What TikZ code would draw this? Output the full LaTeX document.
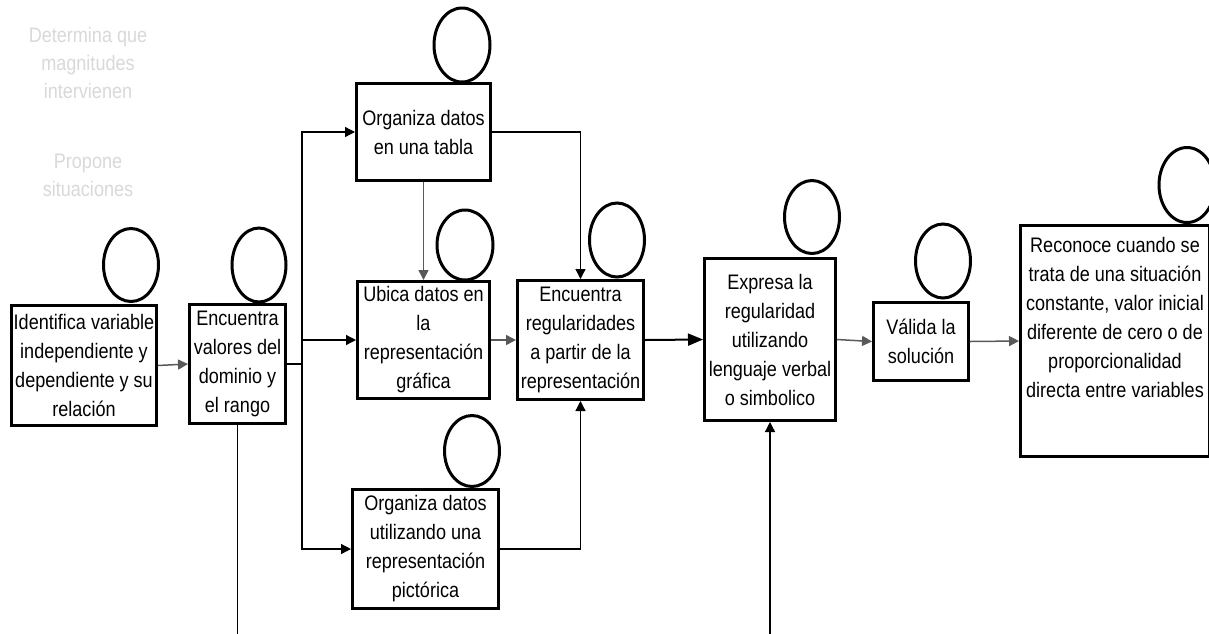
\documentclass[tikz,border=0pt]{standalone}
\usepackage{fontspec}
\setmainfont{Liberation Sans}[FakeStretch=0.86]
\usetikzlibrary{shapes.geometric,arrows.meta}
\definecolor{linegray}{HTML}{595959}
\definecolor{softgray}{HTML}{D9D9D9}
\tikzset{
  stepbox/.style={draw, line width=3pt, inner sep=0pt, align=center,
    font=\fontsize{21}{29}\selectfont},
  steptext/.style={inner sep=0pt, align=center, font=\fontsize{21}{29}\selectfont},
  note/.style={inner sep=0pt, align=center, text=softgray,
    font=\fontsize{21}{28}\selectfont},
  bubble/.style={ellipse, draw, line width=3pt, inner sep=0pt,
    minimum width=53pt, minimum height=72pt},
  link/.style={line width=1.3pt, black},
  glink/.style={line width=1.5pt, linegray},
  tip/.style={-{Triangle[length=10pt,width=10pt]}},
  bigtip/.style={-{Triangle[length=15pt,width=12pt]}}
}
\begin{document}
\begin{tikzpicture}[x=1pt,y=-1pt]
\clip (0,0) rectangle (1209,633);
\fill[white] (0,0) rectangle (1209,633);

% faded notes
\node[note] (n1) at (88,63) {Determina que\\magnitudes\\intervienen};
\node[note] (n2) at (88,175) {Propone\\situaciones};

% process steps
\node[stepbox, minimum width=145pt, minimum height=120pt] (ide) at (84,365.5)
  {Identifica variable\\independiente y\\dependiente y su\\relación};
\node[stepbox, minimum width=96pt, minimum height=119pt] (val) at (237.5,364)
  {Encuentra\\valores del\\dominio y\\el rango};
\node[stepbox, minimum width=134pt, minimum height=97pt] (tab) at (423.5,132)
  {Organiza datos\\en una tabla};
\node[stepbox, minimum width=132pt, minimum height=117pt] (ubi) at (423.5,340)
  {Ubica datos en\\la\\representación\\gráfica};
\node[stepbox, minimum width=126pt, minimum height=119pt] (reg) at (580.5,340)
  {Encuentra\\regularidades\\a partir de la\\representación};
\node[stepbox, minimum width=146pt, minimum height=119pt] (pic) at (425.5,549)
  {Organiza datos\\utilizando una\\representación\\pictórica};
\node[stepbox, minimum width=131pt, minimum height=162pt] (exp) at (770,339.5)
  {Expresa la\\regularidad\\utilizando\\lenguaje verbal\\o simbolico};
\node[stepbox, minimum width=95pt, minimum height=78pt] (vld) at (921,341.5)
  {Válida la\\solución};
\node[stepbox, minimum width=189pt, minimum height=231pt] (rec) at (1115,341) {};
\node[steptext] (rectxt) at (1115,317)
  {Reconoce cuando se\\trata de una situación\\constante, valor inicial\\diferente de cero o de\\proporcionalidad\\directa entre variables};

% bubbles above the steps
\node[bubble, minimum width=55pt, minimum height=73pt] (b1) at (131,265) {};
\node[bubble, minimum width=54pt, minimum height=74pt] (b2) at (259,265) {};
\node[bubble, minimum width=56pt, minimum height=74pt] (b3) at (462,45) {};
\node[bubble, minimum width=56pt, minimum height=70pt] (b4) at (465,245) {};
\node[bubble, minimum width=55pt, minimum height=74pt] (b5) at (617,240) {};
\node[bubble, minimum width=55pt, minimum height=71pt] (b6) at (472,451) {};
\node[bubble, minimum width=55pt, minimum height=73pt] (b7) at (812,217) {};
\node[bubble, minimum width=55pt, minimum height=74pt] (b8) at (943,261) {};
\node[bubble, minimum width=56pt, minimum height=75pt] (b9) at (1187,185) {};

% connectors
\coordinate (split) at (302,364);
\coordinate (loopa) at (237.5,634);
\coordinate (loopb) at (770,634);

\draw[glink, tip] (ide.east) -- (val.west);
\draw[link, line width=2pt] (val.east) -- (split);
\draw[link, tip] (split) |- (tab.west);
\draw[link, tip] (split) |- (ubi.west);
\draw[link, tip] (split) |- (pic.west);
\draw[link, tip] (tab.east) -| (reg.north);
\draw[glink, tip] (tab.south) -- (ubi.north);
\draw[glink, tip] (ubi.east) -- (reg.west);
\draw[link, tip] (pic.east) -| (reg.south);
\draw[link, line width=2pt, bigtip] (reg.east) -- (exp.west);
\draw[glink, tip] (exp.east) -- (vld.west);
\draw[glink, tip] (vld.east) -- (rec.west);
% feedback loop running along the lower edge
\draw[link] (val.south) -- (loopa);
\draw[link, softgray, line width=1pt] (loopa) -- (loopb);
\draw[link, tip] (loopb) -- (exp.south);
\end{tikzpicture}
\end{document}
